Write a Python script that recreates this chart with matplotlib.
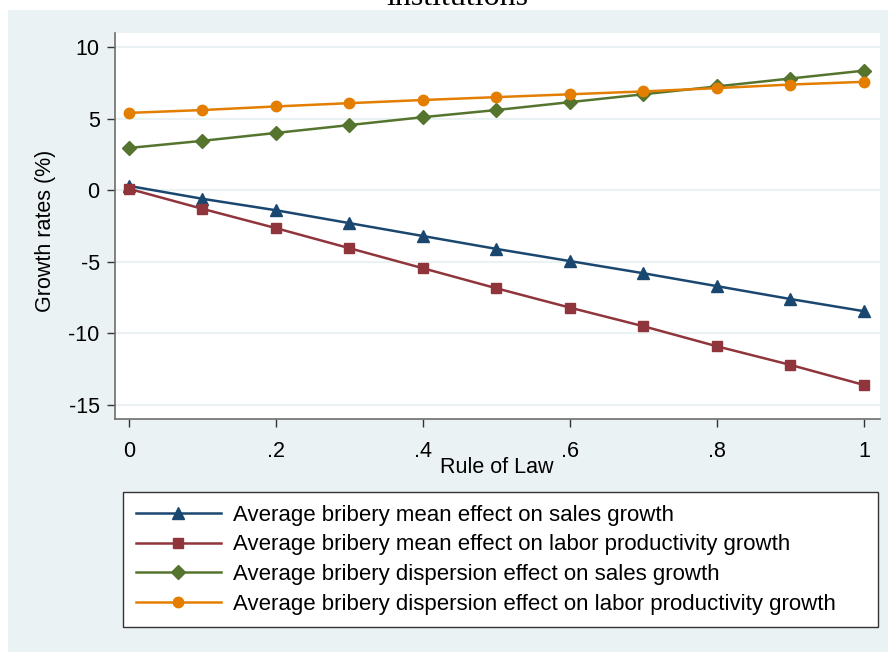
import numpy as np
import matplotlib
matplotlib.use("Agg")
import matplotlib.pyplot as plt
from matplotlib.patches import Rectangle

# data
rule_of_law = [0, 0.1, 0.2, 0.3, 0.4, 0.5, 0.6, 0.7, 0.8, 0.9, 1.0]
mean_sales = [0.3, -0.6, -1.4, -2.3, -3.2, -4.1, -4.95, -5.8, -6.7, -7.6, -8.45]
mean_labor = [0.1, -1.3, -2.65, -4.05, -5.45, -6.85, -8.2, -9.5, -10.9, -12.2, -13.6]
disp_sales = [2.95, 3.45, 4.0, 4.55, 5.1, 5.6, 6.15, 6.7, 7.25, 7.8, 8.35]
disp_labor = [5.4, 5.6, 5.85, 6.08, 6.3, 6.5, 6.7, 6.9, 7.13, 7.38, 7.57]

labels = [
    "Average bribery mean effect on sales growth",
    "Average bribery mean effect on labor productivity growth",
    "Average bribery dispersion effect on sales growth",
    "Average bribery dispersion effect on labor productivity growth",
]
yticks = [-15, -10, -5, 0, 5, 10]
xticks = [0, 0.2, 0.4, 0.6, 0.8, 1.0]
xticklabels = ["0", ".2", ".4", ".6", ".8", "1"]

W, H = 888, 652
bg = "#EAF2F3"
plt.rcParams["font.family"] = ["Liberation Sans", "DejaVu Sans"]

fig = plt.figure(figsize=(W / 100, H / 100), dpi=100)
fig.patch.set_facecolor("white")
# stata style outer panel
fig.patches.append(Rectangle((8 / W, 0), 1 - 8 / W, 1 - 10 / H,
                             transform=fig.transFigure, facecolor=bg,
                             edgecolor="none", zorder=-10))


def fx(px):
    return px / W


def fy(py):
    return 1 - py / H


ax = fig.add_axes([fx(115), fy(419), fx(880) - fx(115), fy(33) - fy(419)])
ax.set_facecolor("white")

ax.plot(rule_of_law, mean_sales, color="#1A476F", marker="^", ms=9, lw=1.8, label=labels[0])
ax.plot(rule_of_law, mean_labor, color="#90353B", marker="s", ms=7, lw=1.8, label=labels[1])
ax.plot(rule_of_law, disp_sales, color="#55752F", marker="D", ms=7.5, lw=1.8, label=labels[2])
ax.plot(rule_of_law, disp_labor, color="#E37E00", marker="o", ms=7.5, lw=1.8, label=labels[3])

ax.set_xlim(-0.019, 1.022)
ax.set_ylim(-15.98, 10.98)
ax.set_yticks(yticks)
ax.set_yticklabels([str(v) for v in yticks])
ax.set_xticks(xticks)
ax.set_xticklabels(xticklabels)
ax.grid(axis="y", color=bg, lw=1.5)
ax.set_axisbelow(True)

for s in ["top", "right"]:
    ax.spines[s].set_visible(False)
for s in ["left", "bottom"]:
    ax.spines[s].set_color("#6E6E6E")
    ax.spines[s].set_linewidth(1.2)
ax.tick_params(axis="y", length=6, width=1, color="#333333", pad=5, labelsize=15.5)
ax.tick_params(axis="x", length=6, width=1, color="#333333", pad=10, labelsize=15.5)

fig.text(fx(497), fy(473), "Rule of Law", ha="center", va="baseline", fontsize=15.5)
fig.text(fx(45), fy(231), "Growth rates (%)", ha="center", va="center",
         rotation=90, fontsize=15.5)
fig.text(fx(457), fy(5), "institutions", ha="center", va="baseline",
         fontsize=23, family="Liberation Serif")

leg = ax.legend(loc="upper left",
                bbox_to_anchor=(fx(123), fy(630), fx(878) - fx(123), fy(492) - fy(630)),
                bbox_transform=fig.transFigure, mode="expand", fontsize=16,
                handlelength=3.85, handletextpad=0.54, labelspacing=0.39,
                borderaxespad=0, borderpad=0.57, fancybox=False, framealpha=1)
leg.get_frame().set_edgecolor("#333333")
leg.get_frame().set_linewidth(1.0)

fig.savefig("out.png", dpi=100, facecolor=fig.get_facecolor())
